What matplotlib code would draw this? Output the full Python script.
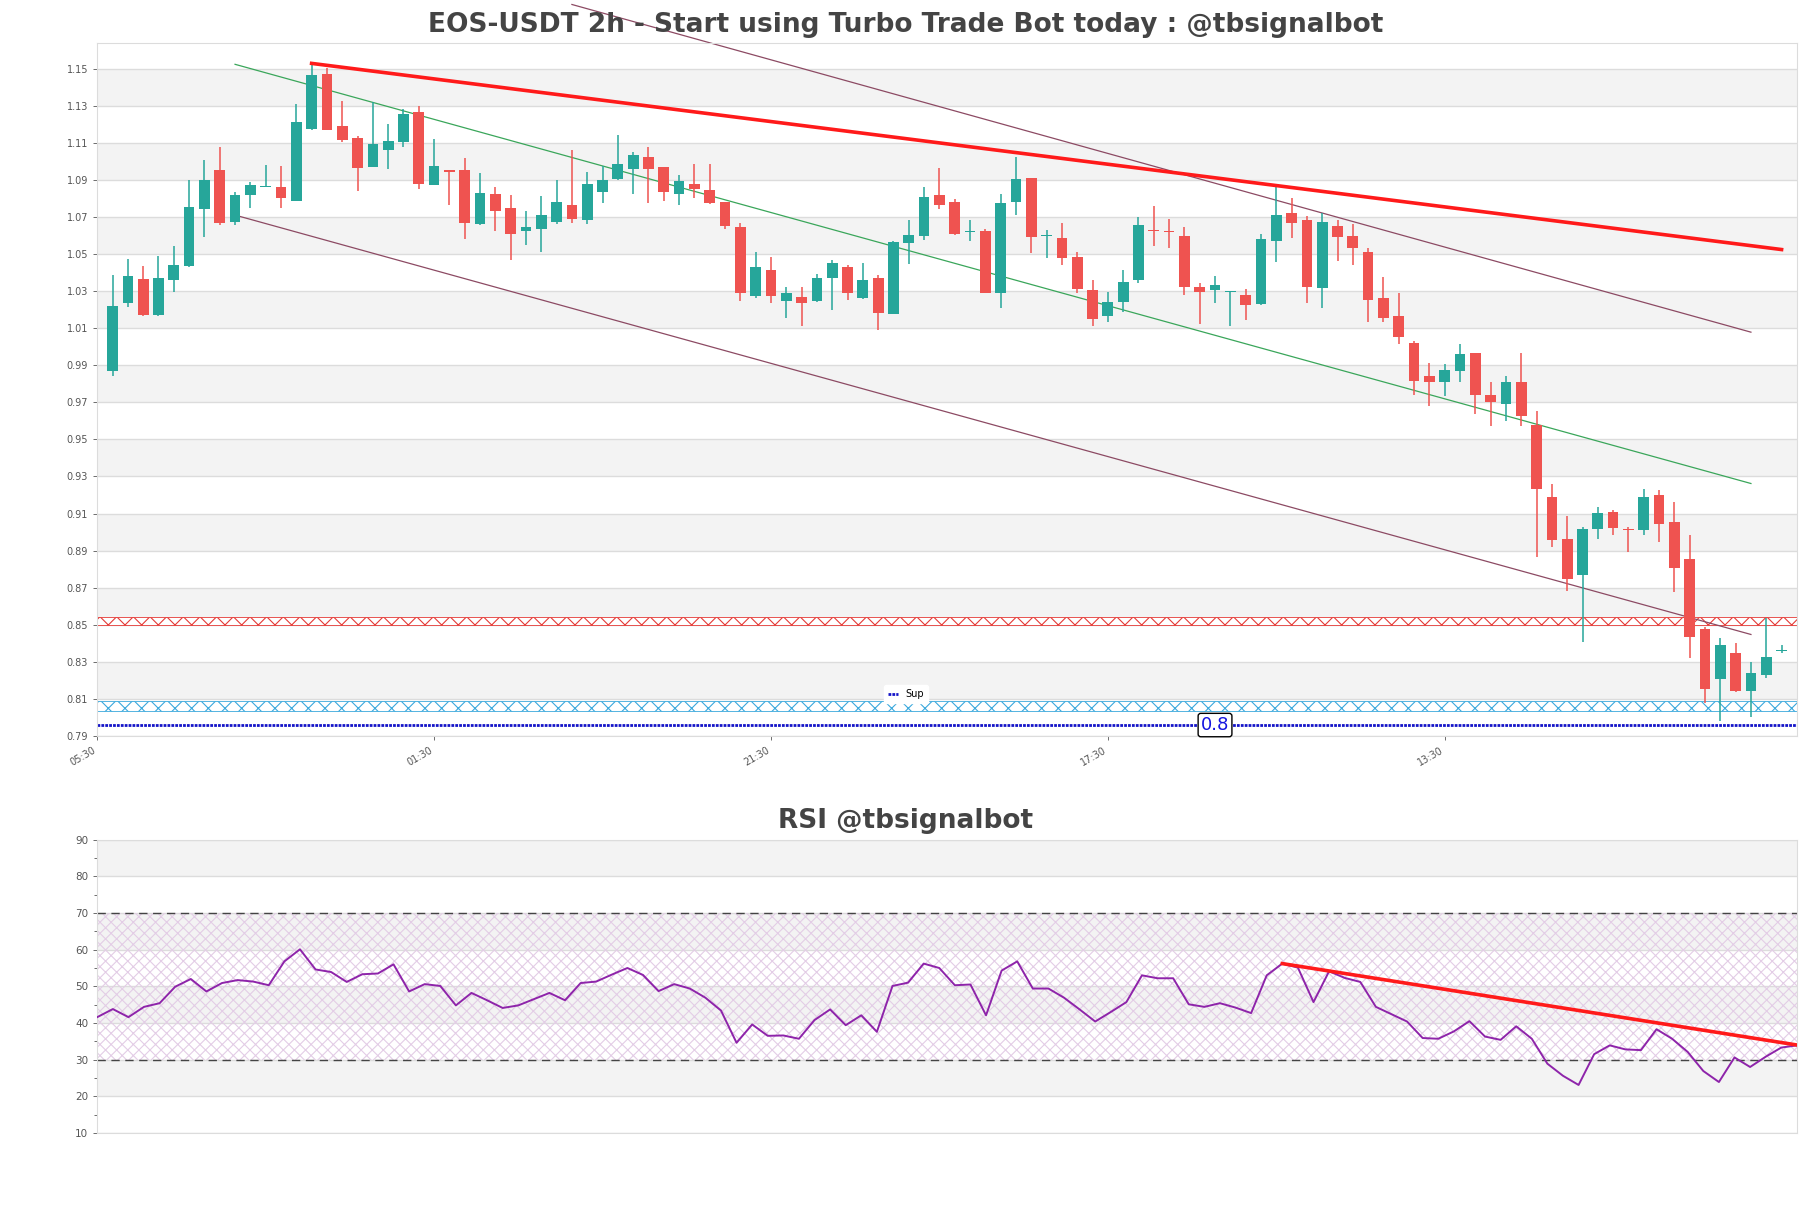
import numpy as np
import matplotlib
matplotlib.use("Agg")
import matplotlib.pyplot as plt

plt.rcParams["hatch.linewidth"] = 0.8

# 2h candles
opens = [0.9872, 1.0236, 1.0365, 1.0172, 1.0358, 1.0437, 1.0742, 1.0955, 1.0675, 1.0819,
         1.0862, 1.0863, 1.0789, 1.1178, 1.1473, 1.1193, 1.1126, 1.0972, 1.1064, 1.1108,
         1.1267, 1.0871, 1.0952, 1.0955, 1.0662, 1.0823, 1.0749, 1.0625, 1.0635, 1.0675,
         1.0764, 1.0687, 1.0838, 1.0908, 1.0962, 1.1024, 1.0970, 1.0826, 1.0880, 1.0846,
         1.0781, 1.0645, 1.0273, 1.0417, 1.0249, 1.0271, 1.0246, 1.0370, 1.0430, 1.0263,
         1.0373, 1.0179, 1.0558, 1.0600, 1.0819, 1.0781, 1.0618, 1.0625, 1.0290, 1.0784,
         1.0913, 1.0598, 1.0588, 1.0484, 1.0306, 1.0164, 1.0244, 1.0358, 1.0630, 1.0622,
         1.0598, 1.0323, 1.0308, 1.0296, 1.0281, 1.0231, 1.0573, 1.0724, 1.0685, 1.0320,
         1.0650, 1.0596, 1.0514, 1.0261, 1.0167, 1.0018, 0.9845, 0.9808, 0.9872, 0.9964,
         0.9741, 0.9689, 0.9810, 0.9577, 0.9190, 0.8963, 0.8769, 0.9015, 0.9109, 0.9016,
         0.9010, 0.9200, 0.9054, 0.8856, 0.8477, 0.8209, 0.8348, 0.8142, 0.8229, 0.8356]
highs = [1.0385, 1.0474, 1.0437, 1.0489, 1.0546, 1.0900, 1.1007, 1.1079, 1.0836, 1.0890,
         1.0982, 1.0975, 1.1309, 1.1537, 1.1507, 1.1329, 1.1138, 1.1319, 1.1203, 1.1282,
         1.1302, 1.1123, 1.0953, 1.1017, 1.0937, 1.0863, 1.0819, 1.0732, 1.0814, 1.0900,
         1.1061, 1.0942, 1.0975, 1.1141, 1.1049, 1.1079, 1.0970, 1.0928, 1.0987, 1.0987,
         1.0781, 1.0670, 1.0514, 1.0484, 1.0323, 1.0323, 1.0392, 1.0467, 1.0444, 1.0452,
         1.0385, 1.0570, 1.0682, 1.0861, 1.0967, 1.0799, 1.0682, 1.0638, 1.0824, 1.1022,
         1.0913, 1.0633, 1.0670, 1.0514, 1.0360, 1.0298, 1.0415, 1.0700, 1.0762, 1.0690,
         1.0645, 1.0343, 1.0382, 1.0298, 1.0311, 1.0610, 1.0873, 1.0804, 1.0707, 1.0724,
         1.0682, 1.0662, 1.0534, 1.0377, 1.0291, 1.0030, 0.9912, 0.9907, 1.0016, 0.9964,
         0.9810, 0.9845, 0.9966, 0.9654, 0.9260, 0.9084, 0.9027, 0.9134, 0.9121, 0.9027,
         0.9233, 0.9225, 0.9163, 0.8985, 0.8490, 0.8427, 0.8403, 0.8298, 0.8534, 0.8390]
lows = [0.9844, 1.0216, 1.0164, 1.0167, 1.0296, 1.0430, 1.0593, 1.0660, 1.0660, 1.0747,
        1.0860, 1.0752, 1.0789, 1.1170, 1.1168, 1.1104, 1.0843, 1.0972, 1.0960, 1.1081,
        1.0853, 1.0871, 1.0767, 1.0583, 1.0658, 1.0623, 1.0467, 1.0551, 1.0511, 1.0662,
        1.0670, 1.0662, 1.0779, 1.0900, 1.0826, 1.0774, 1.0789, 1.0767, 1.0801, 1.0769,
        1.0638, 1.0249, 1.0266, 1.0236, 1.0157, 1.0112, 1.0241, 1.0197, 1.0254, 1.0256,
        1.0093, 1.0179, 1.0447, 1.0576, 1.0742, 1.0605, 1.0571, 1.0290, 1.0211, 1.0712,
        1.0509, 1.0477, 1.0442, 1.0291, 1.0112, 1.0132, 1.0189, 1.0345, 1.0546, 1.0534,
        1.0278, 1.0125, 1.0236, 1.0112, 1.0145, 1.0224, 1.0457, 1.0588, 1.0236, 1.0211,
        1.0464, 1.0439, 1.0132, 1.0132, 1.0013, 0.9741, 0.9679, 0.9733, 0.9808, 0.9639,
        0.9575, 0.9600, 0.9575, 0.8866, 0.8918, 0.8680, 0.8407, 0.8965, 0.8985, 0.8891,
        0.8985, 0.8948, 0.8675, 0.8321, 0.8075, 0.7981, 0.8135, 0.8001, 0.8212, 0.8346]
closes = [1.0221, 1.0382, 1.0172, 1.0373, 1.0442, 1.0754, 1.0900, 1.0667, 1.0819, 1.0873,
          1.0866, 1.0801, 1.1213, 1.1468, 1.1173, 1.1118, 1.0967, 1.1094, 1.1111, 1.1257,
          1.0880, 1.0975, 1.0945, 1.0670, 1.0831, 1.0734, 1.0610, 1.0648, 1.0712, 1.0781,
          1.0692, 1.0878, 1.0900, 1.0985, 1.1034, 1.0962, 1.0833, 1.0893, 1.0851, 1.0776,
          1.0650, 1.0288, 1.0430, 1.0273, 1.0288, 1.0234, 1.0373, 1.0452, 1.0288, 1.0360,
          1.0182, 1.0568, 1.0603, 1.0809, 1.0767, 1.0610, 1.0622, 1.0293, 1.0776, 1.0905,
          1.0591, 1.0602, 1.0477, 1.0311, 1.0150, 1.0241, 1.0350, 1.0655, 1.0626, 1.0618,
          1.0323, 1.0298, 1.0333, 1.0298, 1.0224, 1.0581, 1.0714, 1.0667, 1.0323, 1.0675,
          1.0591, 1.0534, 1.0254, 1.0157, 1.0055, 0.9815, 0.9808, 0.9874, 0.9959, 0.9738,
          0.9703, 0.9808, 0.9629, 0.9235, 0.8955, 0.8749, 0.9017, 0.9104, 0.9020, 0.9012,
          0.9190, 0.9042, 0.8804, 0.8432, 0.8155, 0.8390, 0.8142, 0.8241, 0.8328, 0.8360]

rsi = [41.6, 43.8, 41.6, 44.4, 45.4, 49.9, 52.0, 48.6, 50.9, 51.7,
       51.3, 50.3, 56.8, 60.1, 54.6, 53.9, 51.2, 53.3, 53.5, 56.0,
       48.6, 50.6, 50.1, 44.8, 48.2, 46.2, 44.1, 44.8, 46.5, 48.2,
       46.2, 50.9, 51.3, 53.2, 55.0, 53.1, 48.7, 50.6, 49.4, 46.9,
       43.4, 34.6, 39.6, 36.5, 36.6, 35.7, 40.8, 43.7, 39.4, 42.1,
       37.6, 50.1, 51.0, 56.2, 55.0, 50.3, 50.5, 42.1, 54.3, 56.8,
       49.4, 49.4, 46.9, 43.7, 40.4, 43.0, 45.7, 53.0, 52.2, 52.2,
       45.1, 44.4, 45.4, 44.2, 42.7, 53.0, 56.2, 55.1, 45.7, 54.1,
       52.3, 51.2, 44.4, 42.4, 40.4, 35.9, 35.7, 37.7, 40.5, 36.3,
       35.4, 39.1, 35.7, 28.9, 25.6, 23.1, 31.5, 33.9, 32.8, 32.6,
       38.3, 35.7, 32.1, 26.9, 23.9, 30.6, 28.0, 30.8, 33.3, 33.9]

tick_pos = [-1, 21, 43, 65, 87]
tick_labels = ["05:30", "01:30", "21:30", "17:30", "13:30"]

# trend lines: (x0, y0, x1, y1)
resist_line = (13, 1.1530, 109, 1.0525)
chan_upper = (30, 1.1848, 107, 1.0079)
chan_mid = (8, 1.1525, 107, 0.9262)
chan_lower = (8, 1.0711, 107, 0.8447)
rsi_line = (76, 56.2, 109, 34.0)

res_band = (0.8497, 0.8543)
sup_band = (0.8035, 0.8090)
sup_level = 0.7958

GREEN = "#26a69a"
RED = "#ef5350"
GRID = "#dcdcdc"
BAND = "#f3f3f3"
TXT = "#555555"

fig = plt.figure(figsize=(18.11, 12.08), dpi=100)
ax = fig.add_axes([0.0537, 0.3909, 0.9385, 0.5738])
ax2 = fig.add_axes([0.0537, 0.0621, 0.9385, 0.2428])

# ---- price panel ----
x = np.arange(len(opens))
o = np.array(opens)
c = np.array(closes)
up = c >= o
colors = np.where(up, GREEN, RED)
body_lo = np.minimum(o, c)
body_h = np.maximum(np.abs(c - o), 0.0007)

for lo in np.arange(0.81, 1.14, 0.04):
    ax.axhspan(lo, lo + 0.02, color=BAND, zorder=0, lw=0)

ax.vlines(x, lows, highs, colors=colors, lw=1.1, zorder=3)
ax.bar(x, body_h, bottom=body_lo, width=0.7, color=colors, zorder=4)

ax.plot(resist_line[::2], resist_line[1::2], color="#ff1a1a", lw=2.6, zorder=5)
ax.plot(chan_upper[::2], chan_upper[1::2], color="#8c4a63", lw=0.9, zorder=2, clip_on=False)
ax.plot(chan_mid[::2], chan_mid[1::2], color="#3aa65a", lw=0.9, zorder=2)
ax.plot(chan_lower[::2], chan_lower[1::2], color="#8c4a63", lw=0.9, zorder=2)

ax.axhspan(*res_band, facecolor="white", edgecolor="#e53935", hatch="xx", lw=0.6, zorder=1)
ax.axhspan(*sup_band, facecolor="white", edgecolor="#3aa8dc", hatch="xx", lw=0.6, zorder=1)
ax.axhline(sup_level, color="#1414c8", ls=(0, (1, 0.4)), lw=2, zorder=2, label="Sup")
ax.text(72, sup_level, "0.8", color="#1414e0", fontsize=13, ha="center", va="center",
        zorder=6, bbox=dict(boxstyle="round,pad=0.15", fc="white", ec="black", lw=1))

ax.set_xlim(-1, len(opens))
ax.set_ylim(0.79, 1.1642)
ax.set_yticks(np.arange(0.79, 1.151, 0.02))
ax.set_yticklabels(["%.2f" % v for v in np.arange(0.79, 1.151, 0.02)])
ax.set_xticks(tick_pos)
ax.set_xticklabels(tick_labels, rotation=30, ha="right")
ax.yaxis.grid(True, color=GRID, lw=1, zorder=0)
ax.set_axisbelow(True)
ax.tick_params(labelsize=7, colors=TXT, length=3, width=0.6)
for s in ax.spines.values():
    s.set_color(GRID)

ax.legend(loc="center", bbox_to_anchor=(0.5003, 0.4255), bbox_transform=fig.transFigure,
          fontsize=7, handlelength=1, frameon=True, edgecolor="white", framealpha=1)

# ---- RSI panel ----
for lo in [20, 40, 60, 80]:
    ax2.axhspan(lo, lo + 10, color=BAND, zorder=0, lw=0)
ax2.axhspan(30, 70, facecolor="none", edgecolor="#e3cde6", hatch="xxx", lw=0, zorder=1)
ax2.axhline(30, color="#444444", ls=(0, (6, 4)), lw=1, zorder=2)
ax2.axhline(70, color="#444444", ls=(0, (6, 4)), lw=1, zorder=2)
ax2.plot(np.arange(len(rsi)), rsi, color="#8e24aa", lw=1.4, zorder=3)
ax2.plot(rsi_line[::2], rsi_line[1::2], color="#ff1a1a", lw=2.6, zorder=4)

ax2.set_xlim(0, len(rsi) - 1)
ax2.set_ylim(10, 90)
ax2.set_yticks(range(10, 91, 10))
ax2.set_yticks(range(15, 90, 10), minor=True)
ax2.set_xticks([])
ax2.yaxis.grid(True, color=GRID, lw=1, zorder=0)
ax2.set_axisbelow(True)
ax2.tick_params(labelsize=7.5, colors=TXT, length=3, width=0.6)
ax2.tick_params(which="minor", length=2, colors=TXT)
for s in ax2.spines.values():
    s.set_color(GRID)

fig.text(0.5, 1 - 25.5 / 1208, "EOS-USDT 2h - Start using Turbo Trade Bot today : @tbsignalbot",
         ha="center", va="center", fontsize=19, fontweight="bold", color="#444444")
fig.text(0.5, 1 - 821 / 1208, "RSI @tbsignalbot",
         ha="center", va="center", fontsize=19, fontweight="bold", color="#444444")

fig.savefig("out.png", dpi=100)
